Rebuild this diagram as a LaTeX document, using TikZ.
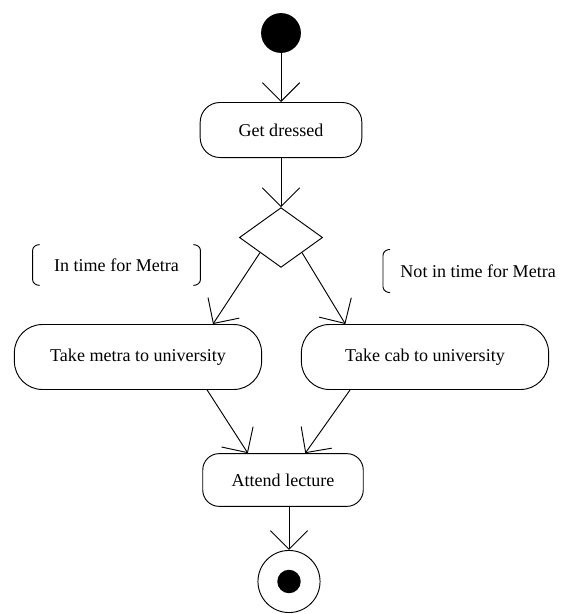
\documentclass[tikz,border=0pt]{standalone}
\usepackage{fontspec}
\setmainfont{Liberation Serif}
\usetikzlibrary{arrows.meta}
\usetikzlibrary{shapes.geometric}

\begin{document}
\begin{tikzpicture}[x=0.03cm, y=-0.03cm, line width=0.8pt,
    font=\fontsize{15.4}{18}\selectfont,
    activity/.style={draw, rounded corners=#1, inner sep=0pt},
    flow/.style={-{Straight Barb[length=16pt, width=32pt, line width=0.8pt]}},
    guard/.style={inner ysep=0pt}]
    \useasboundingbox (0,0) rectangle (578,614);

    \node [circle, fill=black, minimum size=34pt, inner sep=0pt] (start) at (281,33) {};
    \node [activity=17pt, minimum width=138pt, minimum height=47pt] (dress) at (281,130) {Get dressed};
    \node [diamond, draw, minimum width=71pt, minimum height=51pt, inner sep=0pt] (choice) at (281,237.5) {};

    \node [activity=24pt, minimum width=211pt, minimum height=55.5pt] (metra) at (138,357) {Take metra to university};
    \node [activity=24pt, minimum width=211pt, minimum height=55.5pt] (cab) at (425,357) {Take cab to university};
    \node [activity=14pt, minimum width=137pt, minimum height=45pt] (attend) at (283,480) {Attend lecture};

    \node [circle, draw, minimum size=53pt, inner sep=0pt] (final) at (289,581.5) {};
    \node [circle, fill=black, minimum size=20pt, inner sep=0pt] (finaldot) at (final) {};

    % guards
    \node [guard, minimum width=142.5pt, minimum height=34pt] (intime) at (116.5,265) {In time for Metra};
    \node [guard, anchor=west, inner xsep=14.5pt, minimum height=36pt] (late) at (383,271) {Not in time for Metra};

    \draw ([xshift=6pt]intime.north west) to[out=180,in=90] ([yshift=-5pt]intime.north west)
        -- ([yshift=5pt]intime.south west) to[out=-90,in=180] ([xshift=6pt]intime.south west);
    \draw ([xshift=-6pt]intime.north east) to[out=0,in=90] ([yshift=-5pt]intime.north east)
        -- ([yshift=5pt]intime.south east) to[out=-90,in=0] ([xshift=-6pt]intime.south east);
    \draw ([xshift=6pt]late.north west) to[out=180,in=90] ([yshift=-5pt]late.north west)
        -- ([yshift=5pt]late.south west) to[out=-90,in=180] ([xshift=6pt]late.south west);

    % transitions
    \draw [flow] (start) -- (dress);
    \draw [flow] (dress) -- (choice);
    \draw [flow] (choice.south west) -- ([xshift=64pt]metra.north);
    \draw [flow] (choice.south east) -- ([xshift=-68pt]cab.north);
    \draw [flow] ([xshift=59pt]metra.south) -- ([xshift=-30pt]attend.north);
    \draw [flow] ([xshift=-64pt]cab.south) -- ([xshift=19pt]attend.north);
    \draw [flow] (attend.south -| final) -- (final);
\end{tikzpicture}
\end{document}
